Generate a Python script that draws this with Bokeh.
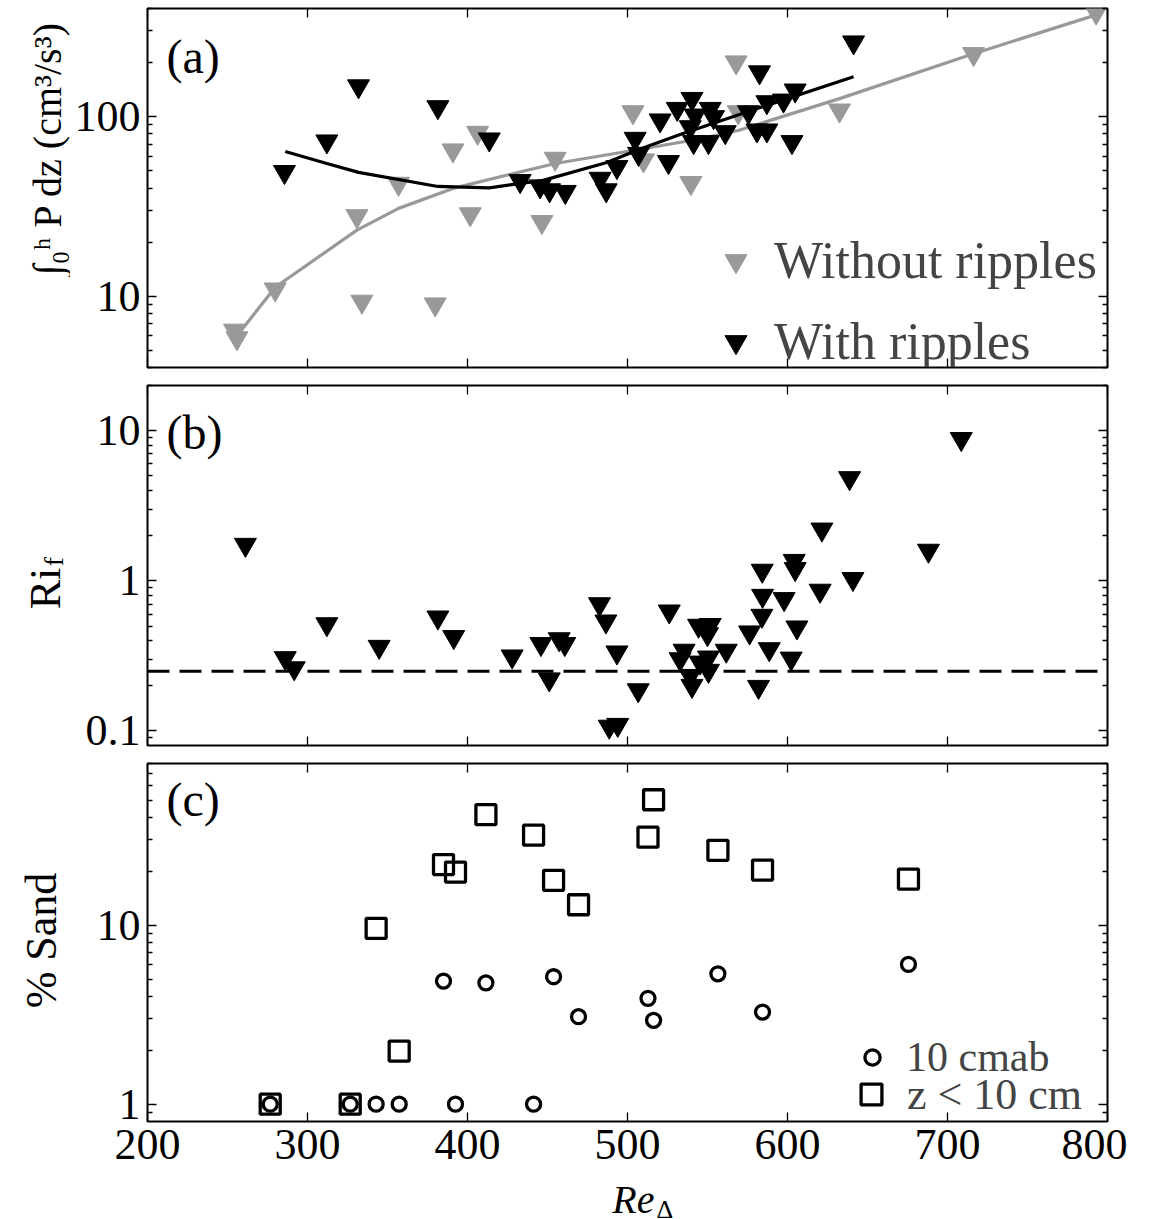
from bokeh.plotting import figure
from bokeh.models import (Range1d, FixedTicker, LinearAxis, LogAxis, Span, Label,
                          Legend, LegendItem, CustomJSTickFormatter)
from bokeh.layouts import column, row
from bokeh.embed import file_html
from bokeh.resources import INLINE

# ---------------- data ----------------
# x ticks (Re_Delta)
x_ticks = [200, 300, 400, 500, 600, 700, 800]

# Panel (a): depth-integrated production
a_without_x = [254.4, 255.9, 279.8, 330.9, 334.0, 356.9, 379.8, 390.9, 406.3, 401.7,
               446.5, 454.8, 503.4, 510.0, 539.6, 567.9, 569.2, 632.5, 716.3, 792.9]
a_without_y = [6.43, 5.83, 10.9, 27.9, 9.32, 42.3, 9.0, 64.9, 81.3, 28.6,
               25.9, 58.3, 105.9, 57.1, 42.7, 200.7, 105.9, 108.3, 223.3, 380.0]
a_with_x = [285.6, 312.1, 331.9, 381.5, 413.6, 432.9, 445.4, 451.3, 461.1, 482.9,
            486.7, 493.4, 504.8, 506.9, 520.4, 525.6, 531.1, 540.3, 542.3, 539.2,
            551.7, 553.8, 561.1, 541.3, 550.6, 575.6, 580.9, 587.1, 582.5, 587.1,
            597.5, 604.8, 602.8, 641.3]
a_with_y = [49.2, 72.8, 147.7, 113.0, 74.7, 43.8, 40.9, 38.9, 38.1, 45.1,
            38.9, 52.4, 75.3, 62.1, 95.3, 55.9, 110.5, 125.6, 101.5, 87.4,
            110.5, 99.4, 82.0, 72.2, 72.2, 105.9, 83.8, 83.8, 176.7, 120.4,
            123.0, 139.9, 72.2, 259.3]
a_without_fit_x = [255.9, 279.8, 330.9, 356.9, 390.9, 454.8, 503.4, 539.6, 569.2, 632.5, 716.3, 792.9]
a_without_fit_y = [6.0, 11.2, 23.3, 30.8, 39.8, 54.8, 64.7, 73.6, 83.6, 125.9, 223.9, 368.7]
a_with_fit_x = [286.1, 312.1, 331.9, 381.5, 413.6, 447.3, 487.1, 507.9, 532.9, 582.9, 641.3]
a_with_fit_y = [63.9, 54.8, 48.9, 40.8, 40.1, 44.1, 55.5, 66.0, 79.4, 112.2, 166.8]
a_major = [10, 100]
a_minor = [4, 5, 6, 7, 8, 9, 20, 30, 40, 50, 60, 70, 80, 90, 200, 300, 400]

# Panel (b): flux Richardson number
b_x = [261.2, 286.1, 291.7, 312.1, 344.8, 381.5, 391.4, 427.9, 445.9, 451.1,
       457.3, 460.8, 482.5, 486.5, 493.4, 506.7, 488.6, 493.9, 526.1, 544.4,
       551.7, 550.0, 535.4, 532.9, 539.2, 540.3, 550.6, 550.6, 561.7, 545.4,
       584.2, 604.2, 604.8, 584.4, 597.9, 584.0, 576.3, 605.9, 588.6, 602.3,
       581.9, 620.4, 640.9, 621.5, 638.8, 688.1, 708.6]
b_y = [1.74, 0.306, 0.262, 0.515, 0.364, 0.571, 0.423, 0.314, 0.380, 0.221,
       0.409, 0.380, 0.700, 0.537, 0.334, 0.187, 0.107, 0.110, 0.626, 0.503,
       0.509, 0.442, 0.343, 0.301, 0.233, 0.200, 0.309, 0.252, 0.343, 0.286,
       1.17, 1.36, 1.20, 0.796, 0.757, 0.586, 0.454, 0.490, 0.351, 0.304,
       0.197, 0.861, 1.03, 2.20, 4.84, 1.59, 8.82]
b_threshold = 0.25
b_major = [0.1, 1, 10]
b_minor = [0.09, 0.2, 0.3, 0.4, 0.5, 0.6, 0.7, 0.8, 0.9, 2, 3, 4, 5, 6, 7, 8, 9, 20]

# Panel (c): percent sand
c_x = [276.7, 326.7, 342.9, 357.3, 385.0, 392.5, 411.5, 441.3, 453.8, 469.4,
       512.8, 516.3, 556.5, 584.4, 675.6]
c_sand_10cmab = [1.0, 1.0, 1.0, 1.0, 4.87, 1.0, 4.76, 1.0, 5.15, 3.08,
                 3.90, 2.94, 5.35, 3.27, 6.04]
c_sand_below10 = [1.0, 1.0, 9.6, 1.98, 21.8, 19.8, 41.4, 31.8, 17.8, 13.0,
                  31.0, 50.2, 26.2, 20.3, 18.1]
c_major = [1, 10]
c_minor = [0.9, 2, 3, 4, 5, 6, 7, 8, 9, 20, 30, 40, 50, 60, 70, 80]

# ---------------- style ----------------
FONT = "Liberation Serif"
GRAY = "#999999"
TICK_FS = "44px"
LEFT_W = 70          # width of the strip holding the y titles
FRAME_LEFT = 77      # border between title strip and frames
FRAME_W = 960
RIGHT_B = 20
PC_BOTTOM = 60       # room for the x tick labels
PAGE_H = 1219


def style_axis(ax, ticks, minor, show_labels, standoff=7):
    ax.ticker = FixedTicker(ticks=ticks, minor_ticks=minor)
    ax.axis_line_color = None
    ax.major_tick_in = 9
    ax.major_tick_out = 0
    ax.minor_tick_in = 5
    ax.minor_tick_out = 0
    ax.major_tick_line_width = 1.3
    ax.minor_tick_line_width = 1.3
    if show_labels:
        ax.formatter = CustomJSTickFormatter(code="return tick.toString();")
        ax.major_label_text_font = FONT
        ax.major_label_text_font_size = TICK_FS
        ax.major_label_text_color = "black"
        ax.major_label_standoff = standoff
    else:
        ax.formatter = CustomJSTickFormatter(code="return '';")
        ax.major_label_text_font_size = "0px"
        ax.major_label_standoff = 0


def make_fig(yr, frame_h, top, bottom, ymajor, yminor, xlabels):
    p = figure(x_range=Range1d(200, 800), y_range=Range1d(*yr), y_axis_type="log",
               frame_width=FRAME_W, frame_height=frame_h,
               min_border_left=FRAME_LEFT, min_border_right=RIGHT_B,
               min_border_top=top, min_border_bottom=bottom,
               output_backend="svg", toolbar_location=None)
    p.xgrid.visible = False
    p.ygrid.visible = False
    p.outline_line_color = "black"
    p.outline_line_width = 2
    p.add_layout(LinearAxis(), "above")
    p.add_layout(LogAxis(), "right")
    style_axis(p.below[0], x_ticks, [], xlabels, standoff=8)
    style_axis(p.above[0], x_ticks, [], False)
    style_axis(p.left[0], ymajor, yminor, True, standoff=7)
    style_axis(p.right[0], ymajor, yminor, False)
    return p


def blank_fig(w, h):
    f = figure(x_range=Range1d(0, 1), y_range=Range1d(0, 1),
               frame_width=w, frame_height=h, min_border_left=0, min_border_right=0,
               min_border_top=0, min_border_bottom=0,
               x_axis_location=None, y_axis_location=None,
               output_backend="svg", toolbar_location=None)
    f.xgrid.visible = False
    f.ygrid.visible = False
    f.outline_line_color = None
    return f


def screen_label(p, x, y, text, size, angle=0.0, align="center", style="normal"):
    p.add_layout(Label(x=x, y=y, x_units="screen", y_units="screen", text=text,
                       angle=angle, text_align=align, text_baseline="middle",
                       text_font=FONT, text_font_size=size, text_font_style=style,
                       text_color="black"))


# ---------------- panel (a) ----------------
pa = make_fig((4, 400), 359, 8, 9, a_major, a_minor, False)
r_without = pa.scatter(a_without_x, a_without_y, marker="inverted_triangle", size=22,
                       fill_color=GRAY, line_color=GRAY)
pa.line(a_without_fit_x, a_without_fit_y, line_color=GRAY, line_width=3.2)
r_with = pa.scatter(a_with_x, a_with_y, marker="inverted_triangle", size=22,
                    fill_color="black", line_color="black")
pa.line(a_with_fit_x, a_with_fit_y, line_color="black", line_width=3.2)
leg_a = Legend(items=[LegendItem(label="Without ripples", renderers=[r_without]),
                      LegendItem(label="With ripples", renderers=[r_with])],
               location=(561, -4), glyph_width=55, glyph_height=55, label_height=55,
               spacing=22, padding=0, margin=0, label_standoff=11,
               border_line_color=None, background_fill_alpha=0,
               label_text_font=FONT, label_text_font_size="52px")
pa.add_layout(leg_a)
screen_label(pa, 19, 311, "(a)", "48px", align="left")

# ---------------- panel (b) ----------------
pb = make_fig((0.08, 20), 360, 9, 9, b_major, b_minor, False)
pb.add_layout(Span(location=b_threshold, dimension="width", line_color="black",
                   line_width=3, line_dash="22 10"))
pb.scatter(b_x, b_y, marker="inverted_triangle", size=22, fill_color="black", line_color="black")
screen_label(pb, 19, 313, "(b)", "48px", align="left")

# ---------------- panel (c) ----------------
pc = make_fig((0.8, 80), 358, 9, PC_BOTTOM, c_major, c_minor, True)
r_sq = pc.scatter(c_x, c_sand_below10, marker="square", size=20, fill_color=None,
                  line_color="black", line_width=3.3)
r_ci = pc.scatter(c_x, c_sand_10cmab, marker="circle", size=14, fill_color=None,
                  line_color="black", line_width=3.3)
leg_c1 = Legend(items=[LegendItem(label="10 cmab", renderers=[r_ci])],
                location=(706, 40), glyph_width=38, glyph_height=38, label_height=38,
                padding=0, margin=0, label_standoff=15, border_line_color=None,
                background_fill_alpha=0, label_text_font=FONT, label_text_font_size="42px")
leg_c2 = Legend(items=[LegendItem(label="z < 10 cm", renderers=[r_sq])],
                location=(698, 1), glyph_width=52, glyph_height=52, label_height=52,
                padding=0, margin=0, label_standoff=10, border_line_color=None,
                background_fill_alpha=0, label_text_font=FONT, label_text_font_size="44px")
pc.add_layout(leg_c1)
pc.add_layout(leg_c2)
screen_label(pc, 19, 322, "(c)", "48px", align="left")

# ---------------- y title strip ----------------
panels_h = (8 + 359 + 9) + (9 + 360 + 9) + (9 + 358 + PC_BOTTOM)
py = blank_fig(LEFT_W, panels_h)
screen_label(py, 47, panels_h - 148, "∫₀ʰ P dz (cm³/s³)", "40px", angle=1.5708)
screen_label(py, 45, panels_h - 588, "Ri", "44px", angle=1.5708)
screen_label(py, 53, panels_h - 561, "f", "28px", angle=1.5708)
screen_label(py, 41, panels_h - 940, "% Sand", "44px", angle=1.5708)

# ---------------- x title strip ----------------
strip_h = PAGE_H - panels_h
px = blank_fig(LEFT_W + FRAME_LEFT + FRAME_W + RIGHT_B, strip_h)
screen_label(px, 654, 20, "Re", "40px", align="right", style="italic")
screen_label(px, 656, 10, "Δ", "26px", align="left")

top = row(py, column(pa, pb, pc, spacing=0), spacing=0)
layout = column(top, px, spacing=0)
open("out.html", "w").write(file_html(layout, INLINE))
